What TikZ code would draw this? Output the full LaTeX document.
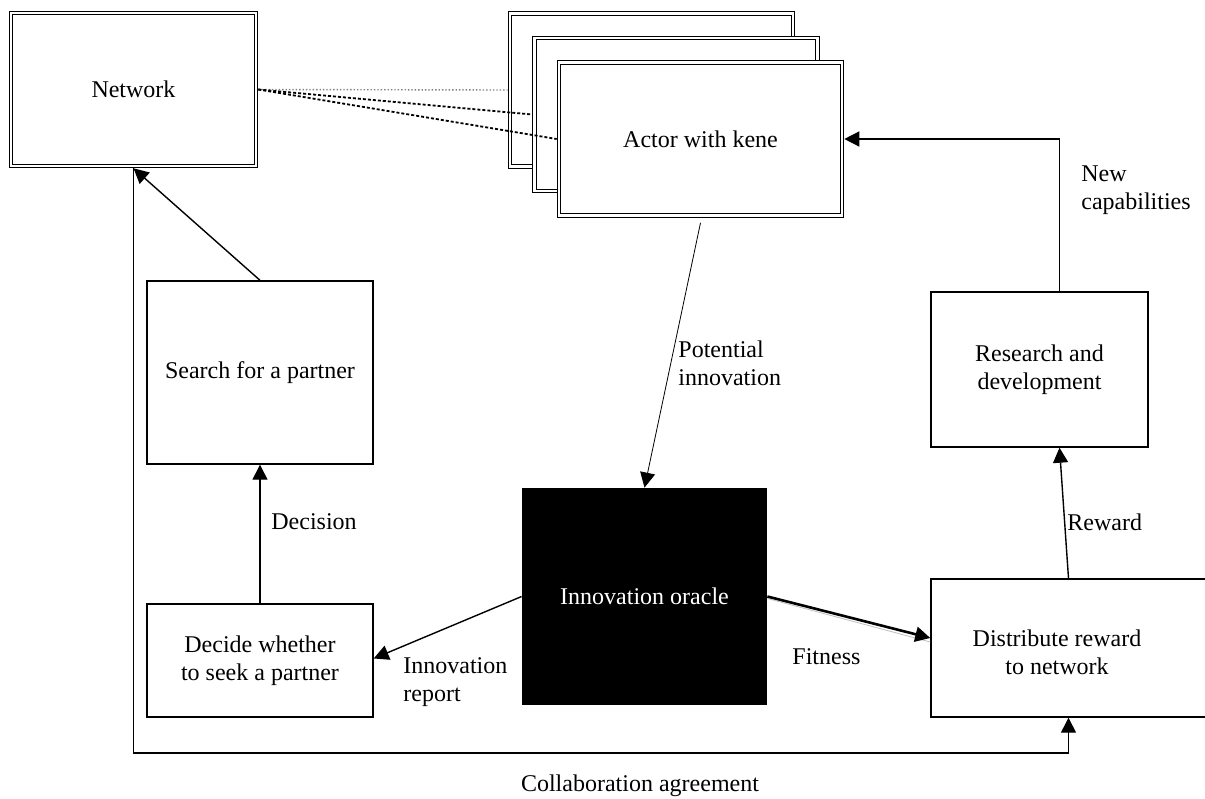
\documentclass[tikz,border=0pt]{standalone}
\usepackage{fontspec}
\setmainfont{Liberation Serif}
\usetikzlibrary{arrows.meta}
\tikzset{
  box/.style={draw, line width=0.7pt, fill=white, inner sep=0pt, align=center},
  dbox/.style={draw, double, double distance=1.3pt, line width=0.5pt, fill=white, inner sep=0pt, outer sep=1.15pt, align=center},
  tip/.style={-{Triangle[length=7.5pt,width=7.5pt]}, line width=0.7pt},
  lbl/.style={align=left, inner sep=0pt, anchor=west},
}
\begin{document}
\begin{tikzpicture}[x=0.5pt, y=-0.5pt, font=\fontsize{12}{14}\selectfont]
\clip (0,0) rectangle (1205,798);

\node[dbox, minimum width=122.5pt, minimum height=76.5pt] (net) at (133.5,89.5) {Network};
\node[dbox, minimum width=141.5pt, minimum height=76.5pt] (actor1) at (651.5,90) {};
\node[dbox, minimum width=141.5pt, minimum height=76.5pt] (actor2) at (676,114.5) {};
\node[dbox, minimum width=141.5pt, minimum height=76.5pt] (actor3) at (700.5,139) {Actor with kene};

\node[box, minimum width=113pt, minimum height=91.5pt] (search) at (260,372.5) {Search for a partner};
\node[box, minimum width=113pt, minimum height=56.5pt] (decide) at (260,660.5) {Decide whether\\to seek a partner};
\node[box, minimum width=108.5pt, minimum height=77.5pt] (research) at (1039.5,369.5) {Research and\\development};
\node[box, minimum width=144.5pt, minimum height=69pt] (dist) at (1075.5,648) {};
\node[align=center, inner sep=0pt] (distlabel) at (1057,652) {Distribute reward\\to network};
\node[fill=black, text=white, inner sep=0pt, minimum width=122.5pt, minimum height=108.5pt] (oracle) at (644.5,596.5) {Innovation oracle};

% links between network and actors
\draw[gray, densely dotted, line width=0.7pt] (net.east) -- (actor1.west);
\draw[dash pattern=on 1.5pt off 1pt, line width=0.9pt] (net.east) -- (actor2.west);
\draw[dash pattern=on 1.5pt off 1pt, line width=0.9pt] (net.east) -- (actor3.west);

\draw[tip, line width=0.4pt] ([yshift=-2.5pt]actor3.south) -- (oracle.north);
\draw[tip] (oracle.west) -- ([yshift=1pt]decide.east);
\draw[tip] (decide.north) -- (search.south);
\draw[tip] (search.north) -- (net.south);
\draw[gray!50, line width=0.4pt] ([yshift=-1pt]oracle.east) -- ([yshift=3pt]dist.west);
\draw[tip, line width=1.3pt] (oracle.east) -- ([yshift=5pt]dist.west);
\draw[tip] ([xshift=-3.5pt]dist.north) -- ([xshift=10pt]research.south);
\draw[tip] ([xshift=10pt]research.north) |- (actor3.east);

\coordinate (bot) at (0,753);
\draw[tip] (net.south) -- (net.south |- bot) -| ([xshift=-3.5pt]dist.south);

\node[lbl] (potential) at (678,363) {Potential\\innovation};
\node[lbl] (decision) at (271,522) {Decision};
\node[lbl] (report) at (403,682) {Innovation\\report};
\node[lbl] (fitness) at (792,657) {Fitness};
\node[lbl] (reward) at (1067,522) {Reward};
\node[lbl] (newcap) at (1081,190) {New\\capabilities};
\node[inner sep=0pt] (collab) at (640,786) {Collaboration agreement};
\end{tikzpicture}
\end{document}
